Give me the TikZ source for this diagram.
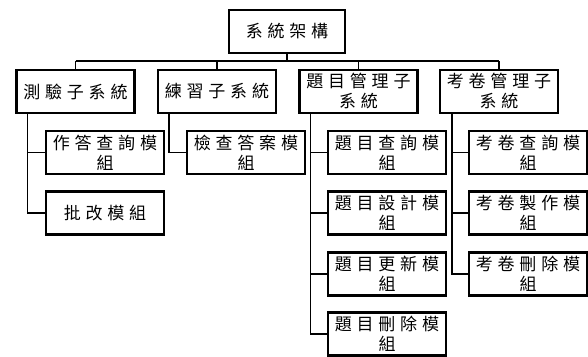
\documentclass[tikz,border=0pt]{standalone}
\usepackage{fontspec}
\usetikzlibrary{shadows}
\newfontfamily\cjk[LetterSpace=28]{Noto Sans CJK TC}
\tikzset{
  box/.style={draw=black, line width=2.4pt, fill=white, minimum width=118pt, minimum height=43pt,
    inner sep=0pt, align=center, font=\cjk\fontsize{17}{20}\selectfont,
    drop shadow={shadow xshift=1pt, shadow yshift=-1.2pt, opacity=0.35, fill=black!60}},
  link/.style={draw=black, line width=1.4pt}
}
\begin{document}
\begin{tikzpicture}[x=1pt,y=-1pt]
\useasboundingbox (0,0) rectangle (588,356);
\node[box, minimum width=116pt] (root) at (287,31.5) {系統架構};
\node[box] (c1) at (75.5,91.5) {測驗子系統};
\node[box] (c2) at (217,91.5) {練習子系統};
\node[box] (c3) at (358.5,91.5) {題目管理子\\系統};
\node[box] (c4) at (499,91.5) {考卷管理子\\系統};
\node[box] (a1) at (105,152.5) {作答查詢模\\組};
\node[box] (a2) at (105,213) {批改模組};
\node[box] (b1) at (246,152.5) {檢查答案模\\組};
\node[box] (d1) at (387,152.5) {題目查詢模\\組};
\node[box] (d2) at (387,213) {題目設計模\\組};
\node[box] (d3) at (387,274) {題目更新模\\組};
\node[box] (d4) at (387,334) {題目刪除模\\組};
\node[box] (e1) at (528,152.5) {考卷查詢模\\組};
\node[box] (e2) at (528,213) {考卷製作模\\組};
\node[box] (e3) at (528,274) {考卷刪除模\\組};
\coordinate (bus) at (0,61);
\begin{scope}[on background layer/.try]
\draw[link] (root.south) -- (root.south |- bus);
\draw[link] (c1.north |- bus) -- (c4.north |- bus);
\foreach \n in {c1,c2,c3,c4} \draw[link] (\n.north) -- (\n.north |- bus);
\draw[link] ([xshift=12pt]c1.south west) |- (a1.west);
\draw[link] ([xshift=12pt]c1.south west) |- (a2.west);
\draw[link] ([xshift=12pt]c2.south west) |- (b1.west);
\foreach \n in {d1,d2,d3,d4} \draw[link] ([xshift=12pt]c3.south west) |- (\n.west);
\foreach \n in {e1,e2,e3} \draw[link] ([xshift=13pt]c4.south west) |- (\n.west);
\end{scope}
\end{tikzpicture}
\end{document}
